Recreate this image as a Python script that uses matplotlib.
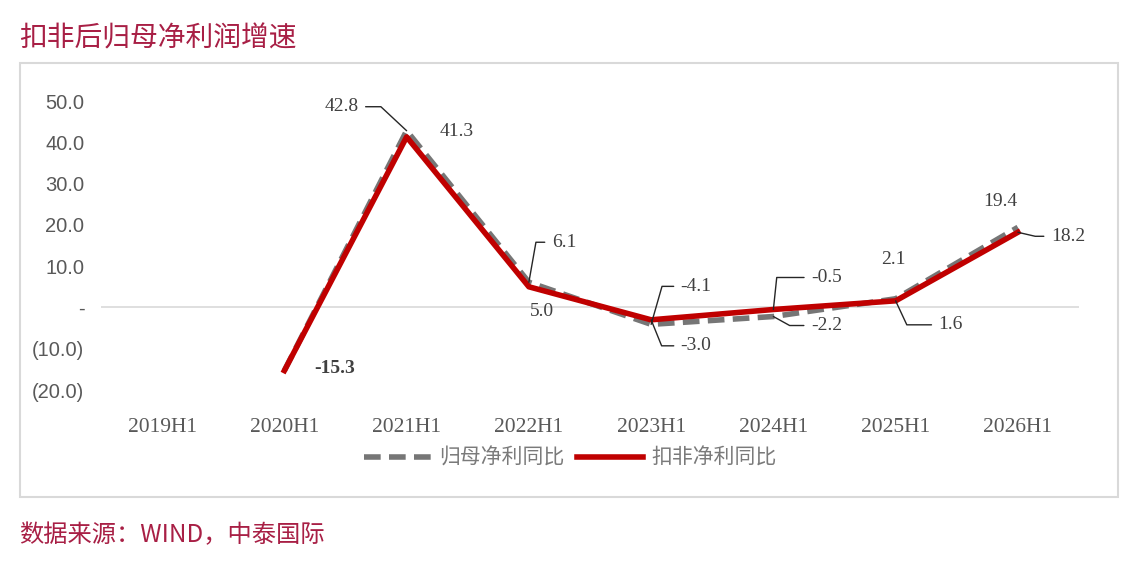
import numpy as np
import matplotlib.pyplot as plt
from matplotlib.patches import Rectangle

plt.rcParams['font.family'] = ['Noto Sans CJK SC', 'DejaVu Sans']

# data
periods = ['2019H1', '2020H1', '2021H1', '2022H1', '2023H1', '2024H1', '2025H1', '2026H1']
np_yoy = [np.nan, -15.3, 42.8, 6.1, -4.1, -2.2, 2.1, 19.4]      # 归母净利同比
core_yoy = [np.nan, -15.3, 41.3, 5.0, -3.0, -0.5, 1.6, 18.2]    # 扣非净利同比
yticks = [50, 40, 30, 20, 10, 0, -10, -20]
ytick_labels = ['50.0', '40.0', '30.0', '20.0', '10.0', '-', '(10.0)', '(20.0)']

title_col = '#a81f45'
grey_txt = '#7a7a7a'
red = '#c00000'
grey_line = '#767676'

fig = plt.figure(figsize=(11.4, 5.8), dpi=100)
fig.patch.set_facecolor('white')

# outer frame
fig.patches.append(Rectangle((20 / 1140, 1 - 497 / 580), 1098 / 1140, 434 / 580,
                             transform=fig.transFigure, fill=False,
                             edgecolor='#d9d9d9', linewidth=1.5))

fig.text(19 / 1140, 1 - 38 / 580, '扣非后归母净利润增速', color=title_col,
         fontsize=20, va='center', ha='left')
fig.text(19 / 1140, 1 - 535 / 580, '数据来源：WIND，中泰国际', color=title_col,
         fontsize=17.5, va='center', ha='left')

ax = fig.add_axes([101 / 1140, 1 - 390 / 580, 978 / 1140, 289 / 580])
x = np.arange(len(periods))

ax.axhline(0, color='#d9d9d9', linewidth=1.2, zorder=1)
ax.plot(x, np_yoy, color=grey_line, linewidth=4, dashes=(3, 1.5), label='归母净利同比', zorder=2)
ax.plot(x, core_yoy, color=red, linewidth=4, label='扣非净利同比', zorder=3)

ax.set_xlim(-0.5, 7.5)
ax.set_ylim(-20, 50)
ax.set_yticks(yticks)
ax.set_yticklabels(ytick_labels, family=['Liberation Sans', 'DejaVu Sans'],
                   fontsize=14.5, color='#595959')
ax.set_xticks(x)
ax.set_xticklabels(periods, family=['Liberation Serif', 'DejaVu Serif'],
                   fontsize=15.5, color='#595959')
ax.tick_params(length=0, axis='y', pad=12)
ax.tick_params(length=0, axis='x', pad=20)
for s in ax.spines.values():
    s.set_visible(False)

# data labels: (series, index, offset px, leader angle or None)
labels = [
    (np_yoy, 2, (-65, 24), 137),
    (core_yoy, 2, (50, 5), None),
    (np_yoy, 3, (35, 40), 80),
    (core_yoy, 3, (13, -25), None),
    (np_yoy, 4, (45, 38), 74),
    (core_yoy, 4, (45, -26), 112),
    (core_yoy, 5, (53, 32), 84),
    (np_yoy, 5, (53, -9), 151),
    (np_yoy, 6, (-2, 39), None),
    (core_yoy, 6, (55, -24), 115),
    (np_yoy, 7, (-18, 26), None),
    (core_yoy, 7, (50, -4), 167),
    (core_yoy, 1, (50, 2), None),
]
for series, i, off, ang in labels:
    v = series[i]
    props = None
    if ang is not None:
        props = dict(arrowstyle='-', color='#262626', lw=1, shrinkA=3, shrinkB=0,
                     connectionstyle=f'angle,angleA=0,angleB={ang},rad=0')
    ax.annotate(f'{v:.1f}', xy=(i, v), xytext=off, textcoords='offset pixels',
                ha='center', va='center', fontsize=14, color='#404040',
                family=['Liberation Serif', 'DejaVu Serif'],
                fontweight='bold' if i == 1 else 'normal',
                arrowprops=props, zorder=4)

leg = ax.legend(loc='center', bbox_to_anchor=(0.48, -0.235), ncol=2, frameon=False,
                fontsize=15, handlelength=3.2, columnspacing=0.6, handletextpad=0.4)
for t in leg.get_texts():
    t.set_color(grey_txt)

fig.savefig('out.png', dpi=100, facecolor='white')
